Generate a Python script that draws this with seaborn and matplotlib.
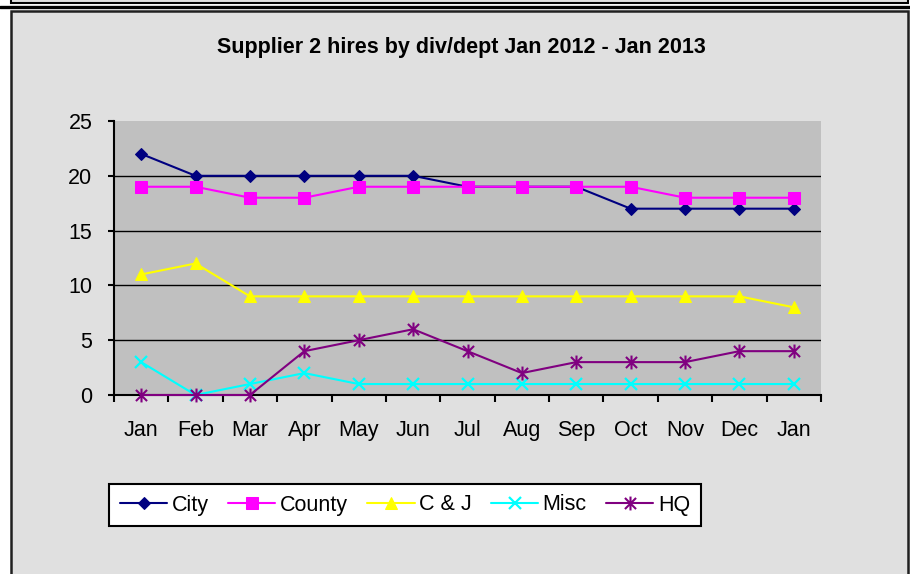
import matplotlib
matplotlib.use("Agg")
import matplotlib.pyplot as plt
import seaborn as sns
import numpy as np
import pandas as pd
from matplotlib.path import Path
from matplotlib.patches import Rectangle
from matplotlib.lines import Line2D

# ---- data ----
months = ["Jan", "Feb", "Mar", "Apr", "May", "Jun", "Jul", "Aug", "Sep", "Oct", "Nov", "Dec", "Jan"]
city = [22, 20, 20, 20, 20, 20, 19, 19, 19, 17, 17, 17, 17]
county = [19, 19, 18, 18, 19, 19, 19, 19, 19, 19, 18, 18, 18]
cj = [11, 12, 9, 9, 9, 9, 9, 9, 9, 9, 9, 9, 8]
misc = [3, 0, 1, 2, 1, 1, 1, 1, 1, 1, 1, 1, 1]
hq = [0, 0, 0, 4, 5, 6, 4, 2, 3, 3, 3, 4, 4]
series_names = ["City", "County", "C & J", "Misc", "HQ"]
title = "Supplier 2 hires by div/dept Jan 2012 - Jan 2013"

sns.set_style("ticks")
plt.rcParams['font.family'] = ['Liberation Sans', 'DejaVu Sans']
plt.rcParams['text.color'] = 'black'

W, H = 910, 574
fig = plt.figure(figsize=(W / 100, H / 100), dpi=100)
fig.patch.set_facecolor("white")

def fx(x):
    return x / W

def fy(y):
    return 1 - y / H

# decorative frames
fig.add_artist(Rectangle((fx(11), fy(3)), fx(908) - fx(11), 0.05, transform=fig.transFigure,
                         facecolor="#e0e0e0", edgecolor="black", lw=1.5, zorder=0))
fig.add_artist(Line2D([0, 1], [fy(7), fy(7)], transform=fig.transFigure, color="black", lw=2.4, zorder=0))
fig.add_artist(Rectangle((fx(11), -0.05), fx(908) - fx(11), fy(11) + 0.05, transform=fig.transFigure,
                         facecolor="#e0e0e0", edgecolor="#202020", lw=1.8, zorder=0))

ax = fig.add_axes([fx(114), fy(395), fx(821) - fx(114), fy(121) - fy(395)])
ax.set_facecolor("#c0c0c0")

df = pd.DataFrame({"idx": np.arange(len(months)), "City": city, "County": county,
                   "C & J": cj, "Misc": misc, "HQ": hq})

ast = Path([(-1, -1), (1, 1), (-1, 1), (1, -1), (0, -1.25), (0, 1.25)],
           [Path.MOVETO, Path.LINETO, Path.MOVETO, Path.LINETO, Path.MOVETO, Path.LINETO])

styles = {
    "City": dict(color="#000080", marker="D", markersize=6.5, markerfacecolor="#000080", markeredgecolor="#000080"),
    "County": dict(color="#ff00ff", marker="s", markersize=8, markerfacecolor="#ff00ff", markeredgecolor="#ff00ff"),
    "C & J": dict(color="#ffff00", marker="^", markersize=8.5, markerfacecolor="#ffff00", markeredgecolor="#ffff00"),
    "Misc": dict(color="#00ffff", marker="x", markersize=9, markeredgewidth=1.6, markeredgecolor="#00ffff"),
    "HQ": dict(color="#800080", marker=ast, markersize=10, markeredgewidth=1.5,
               markerfacecolor="none", markeredgecolor="#800080"),
}

for name in series_names:
    sns.lineplot(data=df, x="idx", y=name, ax=ax, label=name, linewidth=1.5, zorder=3,
                 clip_on=False, **styles[name])

ax.set_xlim(-0.5, len(months) - 0.5)
ax.set_ylim(0, 25)
ax.set_yticks(np.arange(0, 26, 5))
ax.set_xticks(np.arange(len(months)))
ax.set_xticklabels(months)
ax.set_xticks(np.arange(-0.5, len(months), 1.0), minor=True)
ax.set_xlabel("")
ax.set_ylabel("")

ax.yaxis.grid(True, color="black", lw=1.0)
ax.xaxis.grid(False)
ax.set_axisbelow(True)

for s in ["top", "right"]:
    ax.spines[s].set_visible(False)
for s in ["left", "bottom"]:
    ax.spines[s].set_color("black")
    ax.spines[s].set_linewidth(1.5)
    ax.spines[s].set_zorder(2)

FS = 15.5
ax.tick_params(axis="x", which="major", length=0, pad=18, labelsize=FS, colors="black")
ax.tick_params(axis="x", which="minor", length=5, width=1.5, direction="out", color="black")
ax.tick_params(axis="y", which="major", length=4.5, width=1.5, direction="out", pad=11,
               labelsize=FS, colors="black")

fig.text(fx(461), fy(48), title, ha="center", va="center", fontsize=15.5, fontweight="bold", color="black")

handles, labels = ax.get_legend_handles_labels()
if ax.legend_:
    ax.legend_.remove()
leg = fig.legend(handles, labels, ncol=5, loc="center", bbox_to_anchor=(fx(405), fy(505)),
                 frameon=True, fancybox=False, framealpha=1, edgecolor="black", facecolor="white",
                 fontsize=FS, handlelength=2.2, handletextpad=0.2, columnspacing=0.9,
                 borderpad=0.5, borderaxespad=0)
leg.get_frame().set_linewidth(1.5)
for t in leg.get_texts():
    t.set_color("black")

fig.canvas.draw()
gl = ax.get_ygridlines()
gl[-1].set_visible(False)

fig.savefig("out.png", dpi=100, facecolor=fig.get_facecolor())
